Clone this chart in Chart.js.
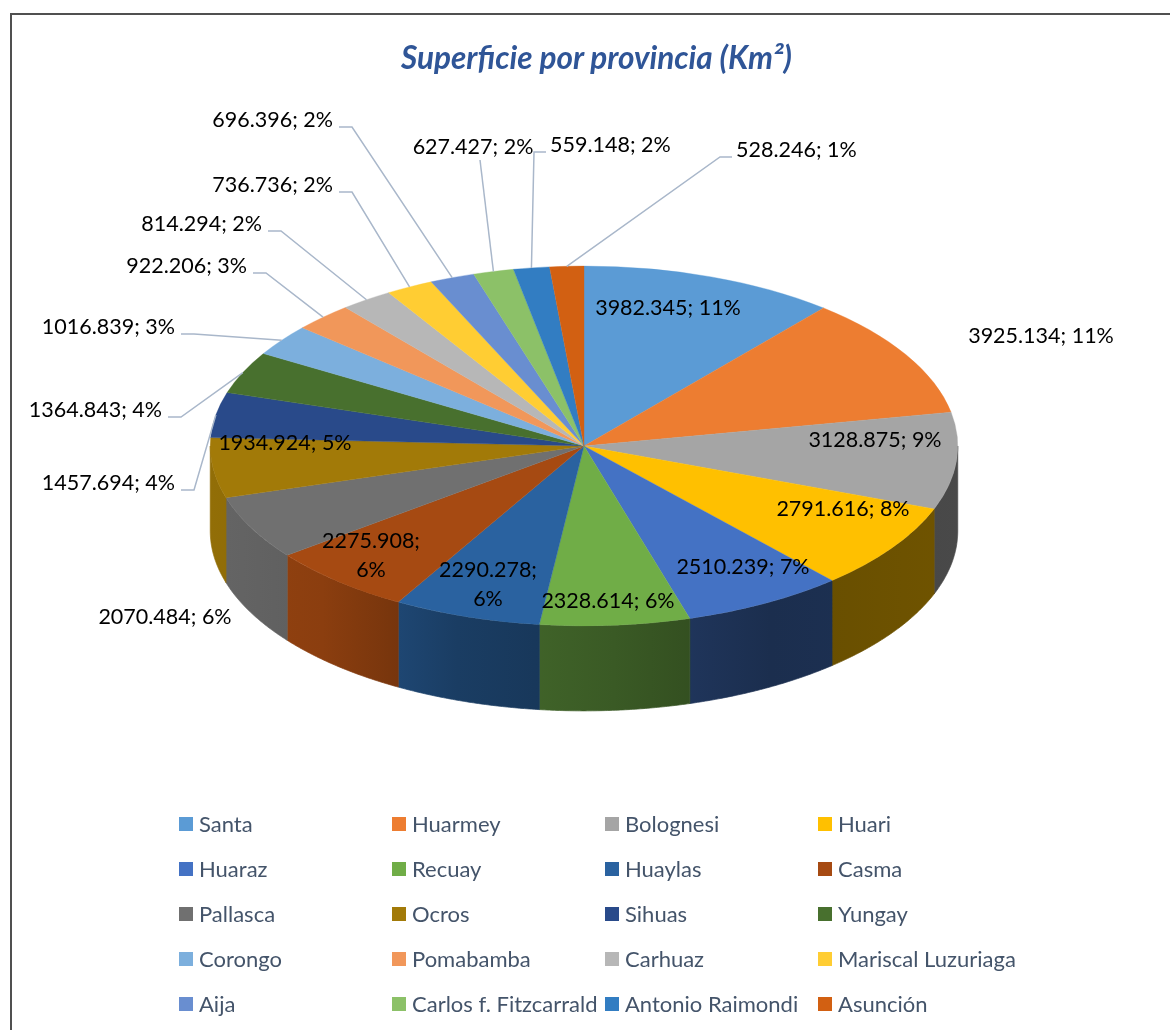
<!DOCTYPE html>
<html><head><meta charset="utf-8">
<script src="https://cdn.jsdelivr.net/npm/chart.js@4.4.1/dist/chart.umd.min.js"></script>
<style>
html,body{margin:0;padding:0;background:#fff;}
#wrap{position:relative;width:1170px;height:1030px;overflow:hidden;font-family:Lato,"Open Sans",sans-serif;background:#fff;}
#frame{position:absolute;left:10px;top:13px;width:1300px;height:1200px;border:2px solid #505050;box-sizing:border-box;}
canvas{position:absolute;left:0;top:0;}
#title{position:absolute;left:0;width:1193px;top:38px;text-align:center;font-weight:700;font-style:italic;font-size:31.5px;color:#2F5597;line-height:38px;white-space:nowrap;}
.lg{position:absolute;height:24px;line-height:24px;font-size:22px;color:#44546A;white-space:nowrap;}
.lg i{position:absolute;left:0;top:5px;width:14px;height:14px;}
.lg span{position:absolute;left:20px;top:0;}
</style></head><body>
<div id="wrap"><div id="frame"></div><canvas id="c" width="1170" height="1030"></canvas><div id="title"></div><div id="legend"></div></div>
<script>
// ---- data ----
const provinces = ["Santa","Huarmey","Bolognesi","Huari","Huaraz","Recuay","Huaylas","Casma","Pallasca","Ocros","Sihuas","Yungay","Corongo","Pomabamba","Carhuaz","Mariscal Luzuriaga","Aija","Carlos f. Fitzcarrald","Antonio Raimondi","Asunción"];
const areas = [3982.345,3925.134,3128.875,2791.616,2510.239,2328.614,2290.278,2275.908,2070.484,1934.924,1457.694,1364.843,1016.839,922.206,814.294,736.736,696.396,627.427,559.148,528.246];
const titleText = "Superficie por provincia (Km²)";

// ---- styles ----
const sliceColors = ["#5B9BD5","#ED7D31","#A5A5A5","#FFC000","#4472C4","#70AD47","#2A62A0","#A64A12","#707070","#A27A08","#294A8A","#48702E","#7CAFDD","#F1975A","#B7B7B7","#FFCD33","#698ED0","#8CC168","#327DC2","#D26012"];
// label layout (text anchor positions, annotation only)
const labelLayout = [
 {x:668,y:308,a:'c'},{x:1041,y:336,a:'c'},{x:875,y:440,a:'c'},{x:843,y:509,a:'c'},
 {x:743,y:567,a:'c'},{x:608,y:601,a:'c'},{x:488,y:585,a:'c',wrap:true},{x:371,y:556,a:'c',wrap:true},
 {x:165,y:617,a:'c'},{x:285,y:443,a:'c'},
 {x:175,y:483,a:'r',lead:'r'},{x:162,y:410,a:'r',lead:'r'},{x:175,y:327,a:'r',lead:'r'},
 {x:247,y:266,a:'r',lead:'r'},{x:262,y:224,a:'r',lead:'r'},{x:333,y:185,a:'r',lead:'r'},
 {x:333,y:120,a:'r',lead:'r'},{x:473,y:147,a:'c',lead:'b'},{x:550,y:145,a:'l',lead:'l'},{x:736,y:150,a:'l',lead:'l'}
];
const CENTER_Y = 446, TILT = 180/374, DEPTH = 85;
// wall shading: [position across pie (0=left,1=right), brightness factor]
const wallShade = [[0,0.9],[0.15,0.84],[0.33,0.62],[0.54,0.52],[0.75,0.4],[1,0.44]];

document.getElementById('title').textContent = titleText;

function darken(hex,f){
  const n=parseInt(hex.slice(1),16);
  const r=Math.round(((n>>16)&255)*f), g=Math.round(((n>>8)&255)*f), b=Math.round((n&255)*f);
  return `rgb(${r},${g},${b})`;
}

const total = areas.reduce((s,v)=>s+v,0);

const pie3d = {
  id:'pie3d',
  beforeDatasetsDraw(chart){
    const ctx = chart.ctx, meta = chart.getDatasetMeta(0);
    const a0 = meta.data[0];
    const cx=a0.x, cyL=a0.y, R=a0.outerRadius, ry=R*TILT, cy=CENTER_Y;
    meta.data.forEach((arc,i)=>{
      const s=Math.max(arc.startAngle,0), e=Math.min(arc.endAngle,Math.PI);
      if(e<=s) return;
      const n=60;
      ctx.beginPath();
      for(let j=0;j<=n;j++){const a=s+(e-s)*j/n;const X=cx+R*Math.cos(a),Y=cy+ry*Math.sin(a); if(j) ctx.lineTo(X,Y); else ctx.moveTo(X,Y);}
      for(let j=n;j>=0;j--){const a=s+(e-s)*j/n;ctx.lineTo(cx+R*Math.cos(a),cy+ry*Math.sin(a)+DEPTH);}
      ctx.closePath();
      const g=ctx.createLinearGradient(cx-R,0,cx+R,0);
      wallShade.forEach(([t,f])=>g.addColorStop(t,darken(sliceColors[i],f)));
      ctx.fillStyle=g;
      ctx.fill();
      ctx.strokeStyle=g;
      ctx.lineWidth=0.7;
      ctx.stroke();
    });
    ctx.save();
    ctx.transform(1,0,0,TILT,0,cy-cyL*TILT);
  },
  afterDatasetsDraw(chart){
    const ctx = chart.ctx;
    ctx.restore();
    const meta = chart.getDatasetMeta(0);
    const a0 = meta.data[0];
    const cx=a0.x, R=a0.outerRadius, ry=R*TILT, cy=CENTER_Y;
    ctx.save();
    ctx.font = '21.5px Lato';
    ctx.fillStyle = '#000';
    ctx.textBaseline = 'middle';
    meta.data.forEach((arc,i)=>{
      const L = labelLayout[i];
      const pct = Math.round(areas[i]/total*100);
      const txt = areas[i].toFixed(3)+'; '+pct+'%';
      const mid=(arc.startAngle+arc.endAngle)/2;
      const ex=cx+R*Math.cos(mid), ey=cy+ry*Math.sin(mid);
      if(L.lead){
        ctx.strokeStyle='#A9B7CA'; ctx.lineWidth=1.5;
        ctx.beginPath();
        if(L.lead==='r'){ctx.moveTo(L.x+6,L.y+7);ctx.lineTo(L.x+19,L.y+7);}
        else if(L.lead==='l'){ctx.moveTo(L.x-4,L.y+7);ctx.lineTo(L.x-16,L.y+7);}
        else {ctx.moveTo(L.x+7,L.y+13);}
        ctx.lineTo(ex,ey);
        ctx.stroke();
      }
      ctx.textAlign = L.a==='r'?'right':(L.a==='l'?'left':'center');
      if(L.wrap){
        const parts = txt.split(' ');
        ctx.fillText(parts[0],L.x,L.y-14.5);
        ctx.fillText(parts[1],L.x,L.y+14.5);
      } else ctx.fillText(txt,L.x,L.y);
    });
    ctx.restore();
  }
};

new Chart(document.getElementById('c'),{
  type:'pie',
  data:{labels:provinces,datasets:[{data:areas,backgroundColor:sliceColors,borderColor:sliceColors,borderWidth:0.5}]},
  options:{
    responsive:false,animation:false,devicePixelRatio:1,
    layout:{padding:{left:210,right:212,top:0,bottom:0}},
    plugins:{legend:{display:false},tooltip:{enabled:false},title:{display:false}},
    events:[]
  },
  plugins:[pie3d]
});

// legend
const lg = document.getElementById('legend');
provinces.forEach((p,i)=>{
  const col=i%4,row=Math.floor(i/4);
  const d=document.createElement('div');
  d.className='lg';
  d.style.left=(179+col*213)+'px';
  d.style.top=(824+row*45-12)+'px';
  d.innerHTML=`<i style="background:${sliceColors[i]}"></i><span></span>`;
  d.querySelector('span').textContent=p;
  lg.appendChild(d);
});
</script>
</body></html>
